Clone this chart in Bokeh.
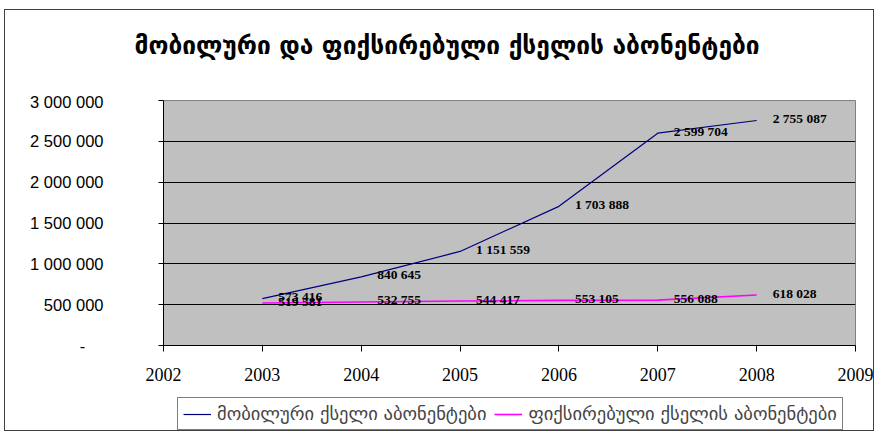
from bokeh.plotting import figure
from bokeh.layouts import column
from bokeh.models import Range1d, FixedTicker, Legend, LegendItem, ColumnDataSource, Title
from bokeh.core.properties import value
from bokeh.embed import file_html
from bokeh.resources import INLINE

title_text = "მობილური და ფიქსირებული ქსელის აბონენტები"
years = [2003, 2004, 2005, 2006, 2007, 2008]
mobile = [573416, 840645, 1151559, 1703888, 2599704, 2755087]
fixed = [519581, 532755, 544417, 553105, 556088, 618028]
series_names = ["მობილური ქსელი აბონენტები", "ფიქსირებული ქსელის აბონენტები"]
series_colors = ["#000080", "#FF00FF"]
x_ticks = [2002, 2003, 2004, 2005, 2006, 2007, 2008, 2009]
y_ticks = [0, 500000, 1000000, 1500000, 2000000, 2500000, 3000000]
y_tick_labels = ["-\u2007\u2007", "500 000", "1 000 000", "1 500 000", "2 000 000", "2 500 000", "3 000 000"]

W = 868

def fmt(v):
    return f"{v:,}".replace(",", " ")

def blank(fig):
    fig.outline_line_color = None
    fig.background_fill_color = "white"
    fig.border_fill_color = "white"
    fig.xgrid.visible = False
    fig.ygrid.visible = False

# --- title strip (its frame is aligned with the main chart's frame by the column) ---
pt = figure(width=W, height=82, output_backend="svg", toolbar_location=None,
            x_range=Range1d(0, 1), y_range=Range1d(0, 1), min_border=0,
            x_axis_type=None, y_axis_type=None)
blank(pt)
pt.title = Title(text=title_text, align="left", offset=-29, vertical_align="top",
                 text_font="DejaVu Sans", text_font_size="24.5px", text_font_style="bold",
                 text_color="black", standoff=40)

# --- main chart ---
p = figure(width=W, height=298, output_backend="svg", toolbar_location=None,
           x_range=Range1d(2002, 2009), y_range=Range1d(0, 3000000),
           min_border_left=158, min_border_right=18, min_border_top=8, min_border_bottom=45)
p.background_fill_color = "#C0C0C0"
p.border_fill_color = "white"
p.outline_line_color = "#808080"
p.outline_line_width = 1

p.xgrid.visible = False
p.ygrid.grid_line_color = "black"
p.ygrid.grid_line_alpha = 1
p.ygrid.ticker = FixedTicker(ticks=y_ticks)

xa = p.xaxis[0]
xa.ticker = FixedTicker(ticks=x_ticks)
xa.axis_line_color = "black"
xa.major_tick_line_color = "black"
xa.major_tick_in = 0
xa.major_tick_out = 6
xa.minor_tick_line_color = None
xa.major_label_text_font = "Liberation Serif"
xa.major_label_text_font_size = "18px"
xa.major_label_text_color = "black"
xa.major_label_standoff = 16

ya = p.yaxis[0]
ya.ticker = FixedTicker(ticks=y_ticks)
ya.major_label_overrides = {t: l for t, l in zip(y_ticks, y_tick_labels)}
ya.axis_line_color = "black"
ya.major_tick_line_color = "black"
ya.major_tick_in = 0
ya.major_tick_out = 5
ya.minor_tick_line_color = None
ya.major_label_text_font = "Liberation Sans"
ya.major_label_text_font_size = "16.5px"
ya.major_label_text_color = "black"
ya.major_label_standoff = 55

p.line(years, mobile, line_color=series_colors[0], line_width=1.2)
p.line(years, fixed, line_color=series_colors[1], line_width=1.6)

src1 = ColumnDataSource(dict(x=years, y=mobile, t=[fmt(v) for v in mobile]))
src2 = ColumnDataSource(dict(x=years, y=fixed, t=[fmt(v) for v in fixed]))
for src in (src1, src2):
    p.text(x="x", y="y", text="t", source=src, x_offset=16, y_offset=-2,
           text_font=value("Liberation Serif"), text_font_style="bold",
           text_font_size="13.5px", text_color="black", text_baseline="middle", text_align="left")

# --- legend strip (series drawn again out of its view, only to key the legend) ---
pl = figure(width=W, height=40, output_backend="svg", toolbar_location=None,
            x_range=Range1d(0, 1), y_range=Range1d(0, 1), min_border=0,
            x_axis_type=None, y_axis_type=None)
blank(pl)
lr1 = pl.line(years, mobile, line_color=series_colors[0], line_width=1.2)
lr2 = pl.line(years, fixed, line_color=series_colors[1], line_width=1.6)
legend = Legend(items=[LegendItem(label=series_names[0], renderers=[lr1]),
                       LegendItem(label=series_names[1], renderers=[lr2])],
                location=(14, 0), orientation="horizontal",
                border_line_color="black", border_line_width=1,
                background_fill_color="white", background_fill_alpha=1,
                label_text_font="DejaVu Sans", label_text_font_size="18.5px",
                glyph_width=28, label_standoff=6, spacing=8, padding=5, margin=0)
pl.add_layout(legend, "center")

layout = column(pt, p, pl, spacing=0)
layout.styles = {"border": "1px solid #404040", "margin-left": "4px", "margin-top": "9px"}

open("out.html", "w").write(file_html(layout, INLINE))
